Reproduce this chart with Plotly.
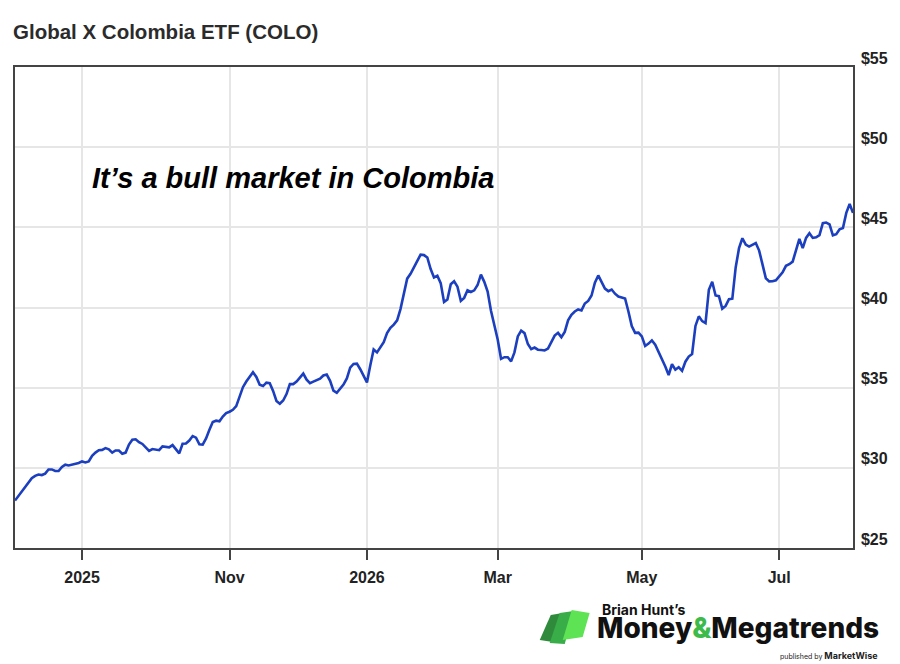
import pandas as pd
import plotly.graph_objects as go

# COLO daily closes, one per trading day (Aug 2025 - Jul 2026)
start_date = "2025-08-01"
end_date = "2026-07-31"
holidays = ["2025-09-01", "2025-11-27", "2025-12-25", "2026-01-01", "2026-01-19",
            "2026-02-16", "2026-04-03", "2026-05-25", "2026-06-19", "2026-07-03"]

closes = [
    27.96, 28.25, 28.54, 28.80, 29.10, 29.35, 29.50, 29.58, 29.55, 29.64,
    29.90, 29.90, 29.80, 29.80, 30.05, 30.20, 30.15, 30.20, 30.24, 30.30,
    30.40, 30.34, 30.40, 30.75, 30.95, 31.10, 31.12, 31.23, 31.15, 30.95,
    31.08, 31.08, 30.88, 30.95, 31.45, 31.75, 31.78, 31.60, 31.49, 31.25,
    31.06, 31.17, 31.12, 31.10, 31.34, 31.33, 31.28, 31.42, 31.15, 30.90,
    31.50, 31.52, 31.70, 31.98, 31.88, 31.47, 31.45, 31.83, 32.38, 32.86,
    32.94, 32.90, 33.20, 33.42, 33.50, 33.62, 33.85, 34.45, 35.03, 35.38,
    35.70, 35.96, 35.67, 35.18, 35.10, 35.31, 35.28, 34.80, 34.17, 34.00,
    34.20, 34.60, 35.22, 35.22, 35.38, 35.65, 35.88, 35.50, 35.28, 35.38,
    35.46, 35.56, 35.76, 35.82, 35.43, 34.82, 34.68, 34.94, 35.19, 35.58,
    36.25, 36.48, 36.50, 36.15, 35.70, 35.33, 36.40, 37.38, 37.20, 37.54,
    37.84, 38.40, 38.73, 38.93, 39.20, 39.90, 40.80, 41.80, 42.10, 42.50,
    42.93, 43.30, 43.27, 43.12, 42.40, 41.88, 41.98, 41.52, 40.35, 40.50,
    41.45, 41.64, 41.30, 40.42, 40.60, 41.07, 40.97, 41.07, 41.40, 42.05,
    41.60, 41.00, 39.80, 38.98, 38.00, 36.80, 36.90, 36.90, 36.64, 37.20,
    38.20, 38.56, 38.40, 37.72, 37.40, 37.50, 37.37, 37.35, 37.32, 37.44,
    37.80, 38.25, 38.42, 38.15, 38.48, 39.20, 39.55, 39.75, 39.88, 39.82,
    40.25, 40.41, 40.75, 41.55, 42.00, 41.56, 41.18, 41.02, 41.12, 40.86,
    40.68, 40.63, 40.56, 39.75, 38.84, 38.42, 38.43, 38.20, 37.60, 37.75,
    37.95, 37.68, 37.25, 36.83, 36.32, 35.79, 36.46, 36.12, 36.28, 36.05,
    36.62, 36.94, 37.10, 38.85, 39.45, 39.15, 39.03, 41.10, 41.60, 40.75,
    40.71, 39.93, 40.10, 40.52, 40.55, 42.50, 43.70, 44.32, 43.92, 43.80,
    43.90, 44.02, 43.55, 42.72, 41.82, 41.63, 41.64, 41.70, 41.98, 42.20,
    42.60, 42.70, 42.86, 43.60, 44.28, 43.70, 44.34, 44.63, 44.34, 44.38,
    44.51, 45.26, 45.30, 45.19, 44.50, 44.57, 44.88, 44.96, 45.90, 46.45,
    45.90,
]

# month boundaries (last session before the new month)
tick_dates = ["2025-08-29", "2025-10-31", "2025-12-31", "2026-02-27", "2026-04-30", "2026-06-30"]
tick_labels = ["2025", "Nov", "2026", "Mar", "May", "Jul"]

days = pd.bdate_range(start_date, end_date, freq="C", holidays=holidays)
dates = [d.strftime("%Y-%m-%d") for d in days][:len(closes)]

# the page body adds an 8px margin, so the figure is a little smaller than the window
OFF = 8
W, H = 900 - OFF, 664 - OFF
L, R, T, B = 5, 47, 59, 116


def paper(px, py):
    # window pixel position -> paper coords (used for the logo / notes only)
    px, py = px - OFF, py - OFF
    return (px - L) / (W - L - R), (H - B - py) / (H - T - B)


fig = go.Figure()
fig.add_trace(go.Scatter(x=dates, y=closes, mode="lines",
                         line=dict(color="#1b3fbf", width=2.6), hoverinfo="x+y"))

axis_font = dict(family="Liberation Sans, Arial, sans-serif", size=16, color="#222", weight="bold")

fig.update_xaxes(type="category", range=[0, len(closes) - 1],
                 tickmode="array", tickvals=tick_dates, ticktext=tick_labels,
                 ticks="outside", ticklen=10, tickwidth=1.5, tickcolor="#444",
                 ticklabelstandoff=4, tickfont=axis_font,
                 showgrid=True, gridcolor="#e6e6e6", gridwidth=1.5,
                 showline=True, linecolor="#444", linewidth=1.5, mirror=True)
fig.update_yaxes(side="right", range=[25, 55], dtick=5, tickprefix="$",
                 tickfont=axis_font, ticklabelshift=-9, ticklabelstandoff=3,
                 showgrid=True, gridcolor="#e6e6e6", gridwidth=1.5, zeroline=False,
                 showline=True, linecolor="#444", linewidth=1.5, mirror=True)

# logo mark: three slanted green strips
strips = [
    ([(539, 640), (550, 615), (562, 613), (552, 642)], "#2f8a3c"),
    ([(549, 643), (559, 613), (573, 611), (564, 644)], "#38ad48"),
    ([(562, 640), (571, 610), (589, 613), (582, 637)], "#5de354"),
]
for pts, col in strips:
    p = [paper(*q) for q in pts]
    path = "M " + " L ".join(f"{a:.4f},{b:.4f}" for a, b in p) + " Z"
    fig.add_shape(type="path", path=path, xref="paper", yref="paper",
                  fillcolor=col, line=dict(width=0))

logo_font = "Inter, Roboto, Liberation Sans, sans-serif"
bx, by = paper(600, 609)
mx, my = paper(595, 628)
px_, py_ = paper(879, 655)

fig.add_annotation(x=bx, y=by, xref="paper", yref="paper", xanchor="left", yanchor="middle",
                   text="Brian Hunt’s", showarrow=False, borderpad=0,
                   font=dict(family=logo_font, size=14, color="#111", weight="bold"))
fig.add_annotation(x=mx, y=my, xref="paper", yref="paper", xanchor="left", yanchor="middle",
                   text="Money<span style='color:#3dbb4a'>&</span>Megatrends", showarrow=False,
                   borderpad=0, font=dict(family=logo_font, size=28, color="#111", weight=800))
fig.add_annotation(x=px_, y=py_, xref="paper", yref="paper", xanchor="right", yanchor="middle",
                   text="<span style='font-size:7px'>published by </span><b>MarketWise</b>",
                   showarrow=False, borderpad=0, font=dict(family=logo_font, size=9, color="#222"))

ax, ay = paper(88, 178)
fig.add_annotation(x=ax, y=ay, xref="paper", yref="paper", xanchor="left", yanchor="middle",
                   text="<b><i>It’s a bull market in Colombia</i></b>", showarrow=False,
                   font=dict(family="Liberation Sans, Arial, sans-serif", size=29, color="#000"))

fig.update_layout(
    width=W, height=H,
    margin=dict(l=L, r=R, t=T, b=B),
    paper_bgcolor="white", plot_bgcolor="white",
    showlegend=False,
    title=dict(text="<b>Global X Colombia ETF (COLO)</b>", x=(13 - OFF) / W, xanchor="left",
               y=1 - (32 - OFF) / H, yanchor="middle",
               font=dict(family="Liberation Sans, Arial, sans-serif", size=20.5, color="#2b2b2b")),
)

fig.write_html("out.html")
